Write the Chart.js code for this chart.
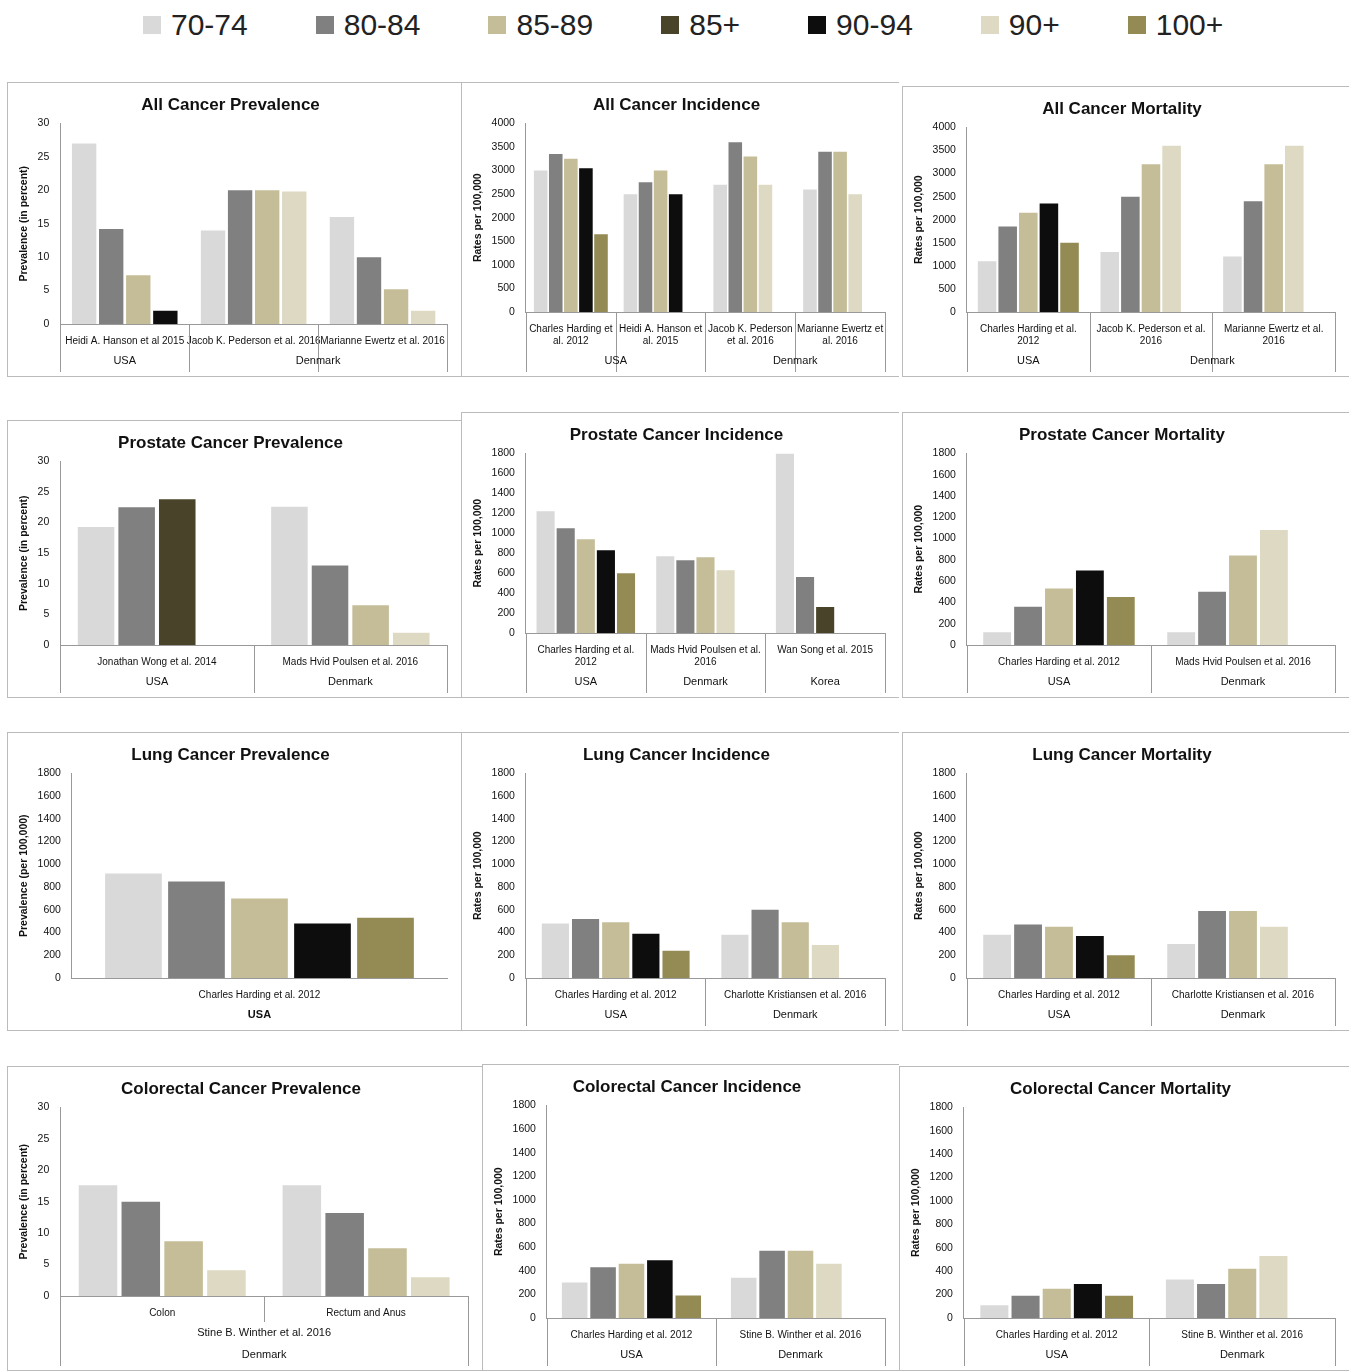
<!DOCTYPE html>
<html>
<head>
<meta charset="utf-8">
<script src="https://cdn.jsdelivr.net/npm/chart.js@4.4.1/dist/chart.umd.min.js"></script>
<style>
  body { margin: 0; background: #fff; font-family: "Liberation Sans", Arial, sans-serif; }
  #wrap { position: relative; width: 1349px; height: 1371px; }
  .legend { position: absolute; top: 8px; left: 143px; display: flex; font-size: 30px; color: #222; }
  .legend span { display: flex; align-items: center; margin-right: 68px; }
  .legend i { display: inline-block; width: 18px; height: 18px; margin-right: 10px; }
  .panel { position: absolute; border-top: 1px solid #bbb; border-left: 1px solid #bbb; border-bottom: 1px solid #bbb; box-sizing: border-box; }
</style>
</head>
<body>
<div id="wrap">
  <div class="legend" id="legend"></div>
</div>
<script>
'use strict';

/* ── SERIES ── */
const seriesNames  = ['70-74', '80-84', '85-89', '85+', '90-94', '90+', '100+'];
const seriesColors = ['#d9d9d9', '#808080', '#c4bd97', '#494429', '#0d0d0d', '#ddd9c3', '#948a54'];

/* ── DATA (one row per series, one column per category; null = no bar) ── */
const prevAllCats = [['Heidi A. Hanson et al 2015'], ['Jacob K. Pederson et al. 2016'], ['Marianne Ewertz et al. 2016']];
const prevAllVals = [[27, 14, 16], [14.2, 20, 10], [7.3, 20, 5.2], [null, null, null], [2, null, null], [null, 19.8, 2], [null, null, null]];

const incAllCats = [['Charles Harding et', 'al. 2012'], ['Heidi A. Hanson et', 'al. 2015'], ['Jacob K. Pederson', 'et al. 2016'], ['Marianne Ewertz et', 'al. 2016']];
const incAllVals = [[3000, 2500, 2700, 2600], [3350, 2750, 3600, 3400], [3250, 3000, 3300, 3400], [null, null, null, null], [3050, 2500, null, null], [null, null, 2700, 2500], [1650, null, null, null]];

const mortAllCats = [['Charles Harding et al.', '2012'], ['Jacob K. Pederson et al.', '2016'], ['Marianne Ewertz et al.', '2016']];
const mortAllVals = [[1100, 1300, 1200], [1850, 2500, 2400], [2150, 3200, 3200], [null, null, null], [2350, null, null], [null, 3600, 3600], [1500, null, null]];

const prevProCats = [['Jonathan Wong et al. 2014'], ['Mads Hvid Poulsen et al. 2016']];
const prevProVals = [[19.3, 22.6], [22.5, 13], [null, 6.5], [23.8, null], [null, null], [null, 2], [null, null]];

const incProCats = [['Charles Harding et al.', '2012'], ['Mads Hvid Poulsen et al.', '2016'], ['Wan Song et al. 2015']];
const incProVals = [[1220, 770, 1800], [1050, 730, 560], [940, 760, null], [null, null, 260], [830, null, null], [null, 630, null], [600, null, null]];

const mortProCats = [['Charles Harding et al. 2012'], ['Mads Hvid Poulsen et al. 2016']];
const mortProVals = [[120, 120], [360, 500], [530, 840], [null, null], [700, null], [null, 1080], [450, null]];

const prevLungCats = [['Charles Harding et al. 2012']];
const prevLungVals = [[920], [850], [700], [null], [480], [null], [530]];

const incLungCats = [['Charles Harding et al. 2012'], ['Charlotte Kristiansen et al. 2016']];
const incLungVals = [[480, 380], [520, 600], [490, 490], [null, null], [390, null], [null, 290], [240, null]];

const mortLungCats = [['Charles Harding et al. 2012'], ['Charlotte Kristiansen et al. 2016']];
const mortLungVals = [[380, 300], [470, 590], [450, 590], [null, null], [370, null], [null, 450], [200, null]];

const prevColCats = [['Colon'], ['Rectum and Anus']];
const prevColVals = [[17.6, 17.6], [15, 13.2], [8.7, 7.6], [null, null], [null, null], [4.1, 3.0], [null, null]];

const incColCats = [['Charles Harding et al. 2012'], ['Stine B. Winther et al. 2016']];
const incColVals = [[300, 340], [430, 570], [460, 570], [null, null], [490, null], [null, 460], [190, null]];

const mortColCats = [['Charles Harding et al. 2012'], ['Stine B. Winther et al. 2016']];
const mortColVals = [[110, 330], [190, 290], [250, 420], [null, null], [290, null], [null, 530], [190, null]];

/* ── PANELS ── */
const PCT = 'Prevalence (in percent)';
const RATE = 'Rates per 100,000';
const panels = [
  { title: 'All Cancer Prevalence', x: 7, y: 82, w: 454, h: 295, cats: prevAllCats, vals: prevAllVals, max: 30, step: 5, yTitle: PCT,
    levels: [[['USA', 1], ['Denmark', 2]]] },
  { title: 'All Cancer Incidence', x: 461, y: 82, w: 438, h: 295, cats: incAllCats, vals: incAllVals, max: 4000, step: 500, yTitle: RATE,
    levels: [[['USA', 2], ['Denmark', 2]]] },
  { title: 'All Cancer Mortality', x: 902, y: 86, w: 447, h: 291, cats: mortAllCats, vals: mortAllVals, max: 4000, step: 500, yTitle: RATE,
    levels: [[['USA', 1], ['Denmark', 2]]] },
  { title: 'Prostate Cancer Prevalence', x: 7, y: 420, w: 454, h: 278, cats: prevProCats, vals: prevProVals, max: 30, step: 5, yTitle: PCT,
    levels: [[['USA', 1], ['Denmark', 1]]] },
  { title: 'Prostate Cancer Incidence', x: 461, y: 412, w: 438, h: 286, cats: incProCats, vals: incProVals, max: 1800, step: 200, yTitle: RATE,
    levels: [[['USA', 1], ['Denmark', 1], ['Korea', 1]]] },
  { title: 'Prostate Cancer Mortality', x: 902, y: 412, w: 447, h: 286, cats: mortProCats, vals: mortProVals, max: 1800, step: 200, yTitle: RATE,
    levels: [[['USA', 1], ['Denmark', 1]]] },
  { title: 'Lung Cancer Prevalence', x: 7, y: 732, w: 454, h: 299, cats: prevLungCats, vals: prevLungVals, max: 1800, step: 200, yTitle: 'Prevalence (per 100,000)',
    levels: [[['USA', 1]]], plain: true },
  { title: 'Lung Cancer Incidence', x: 461, y: 732, w: 438, h: 299, cats: incLungCats, vals: incLungVals, max: 1800, step: 200, yTitle: RATE,
    levels: [[['USA', 1], ['Denmark', 1]]] },
  { title: 'Lung Cancer Mortality', x: 902, y: 732, w: 447, h: 299, cats: mortLungCats, vals: mortLungVals, max: 1800, step: 200, yTitle: RATE,
    levels: [[['USA', 1], ['Denmark', 1]]] },
  { title: 'Colorectal Cancer Prevalence', x: 7, y: 1066, w: 475, h: 305, cats: prevColCats, vals: prevColVals, max: 30, step: 5, yTitle: PCT,
    levels: [[['Stine B. Winther et al. 2016', 2]], [['Denmark', 2]]], innerTop: true },
  { title: 'Colorectal Cancer Incidence', x: 482, y: 1064, w: 417, h: 307, cats: incColCats, vals: incColVals, max: 1800, step: 200, yTitle: RATE,
    levels: [[['USA', 1], ['Denmark', 1]]] },
  { title: 'Colorectal Cancer Mortality', x: 899, y: 1066, w: 450, h: 305, cats: mortColCats, vals: mortColVals, max: 1800, step: 200, yTitle: RATE,
    levels: [[['USA', 1], ['Denmark', 1]]] },
];

/* ── LEGEND ── */
const legend = document.getElementById('legend');
seriesNames.forEach((n, i) => {
  const s = document.createElement('span');
  s.innerHTML = `<i style="background:${seriesColors[i]}"></i>${n}`;
  legend.appendChild(s);
});

/* ── MULTI-LEVEL X AXIS PLUGIN ── */
const ROW = 22;
const FONT = '"Liberation Sans", Arial, sans-serif';
const levelsPlugin = {
  id: 'levels',
  afterDraw(chart, args, opts) {
    const { ctx } = chart;
    const xs = chart.scales.x;
    const n = chart.data.labels.length;
    const top = chart.chartArea.bottom;
    const bottom = xs.bottom + opts.levels.length * ROW;
    const edge = i => i <= 0 ? chart.chartArea.left : i >= n ? chart.chartArea.right
      : (xs.getPixelForValue(i - 1) + xs.getPixelForValue(i)) / 2;
    ctx.save();
    ctx.strokeStyle = '#999';
    ctx.lineWidth = 1;
    ctx.fillStyle = '#111';
    ctx.textAlign = 'center';
    ctx.textBaseline = 'middle';
    if (!opts.plain) {
      ctx.beginPath();
      for (let i = 0; i <= n; i++) {
        const x = Math.round(edge(i)) + 0.5;
        const inner = i > 0 && i < n;
        ctx.moveTo(x, top);
        ctx.lineTo(x, inner && opts.innerTop ? xs.bottom : bottom);
      }
      ctx.stroke();
    }
    opts.levels.forEach((row, r) => {
      let start = 0;
      const y = xs.bottom + r * ROW + ROW / 2;
      ctx.font = (opts.plain ? 'bold 11px ' : '11px ') + FONT;
      row.forEach(([text, span]) => {
        const x0 = edge(start), x1 = edge(start + span);
        ctx.fillText(text, (x0 + x1) / 2, y);
        start += span;
      });
    });
    ctx.restore();
  },
};

/* ── BUILD SLOT DATASETS (bars packed per category) ── */
function buildDatasets(vals, nCats) {
  const lists = [];
  for (let c = 0; c < nCats; c++) {
    const l = [];
    vals.forEach((row, s) => { if (row[c] !== null) l.push({ v: row[c], s }); });
    lists.push(l);
  }
  const slots = Math.max(...lists.map(l => l.length));
  const ds = [];
  for (let k = 0; k < slots; k++) {
    ds.push({
      data: lists.map(l => l[k] ? l[k].v : null),
      backgroundColor: lists.map(l => l[k] ? seriesColors[l[k].s] : 'transparent'),
      barPercentage: 0.9,
      categoryPercentage: 0.84,
    });
  }
  return ds;
}

/* ── RENDER ── */
const wrap = document.getElementById('wrap');
panels.forEach(p => {
  const div = document.createElement('div');
  div.className = 'panel';
  Object.assign(div.style, { left: p.x + 'px', top: p.y + 'px', width: p.w + 'px', height: p.h + 'px' });
  const cv = document.createElement('canvas');
  div.appendChild(cv);
  wrap.appendChild(div);
  cv.width = p.w - 1; cv.height = p.h - 2;
  Object.assign(cv.style, { width: (p.w - 1) + 'px', height: (p.h - 2) + 'px' });

  new Chart(cv, {
    type: 'bar',
    data: { labels: p.cats, datasets: buildDatasets(p.vals, p.cats.length) },
    plugins: [levelsPlugin],
    options: {
      responsive: false,
      animation: false,
      layout: { padding: { left: 6, right: 14, top: 6, bottom: p.levels.length * ROW + 4 } },
      plugins: {
        legend: { display: false },
        tooltip: { enabled: false },
        title: { display: true, text: p.title, color: '#111', padding: { top: 6, bottom: 8 },
          font: { size: 17, weight: 'bold', family: FONT } },
        levels: { levels: p.levels, plain: !!p.plain, innerTop: !!p.innerTop },
      },
      scales: {
        x: {
          grid: { display: false },
          border: { color: '#999' },
          ticks: { color: '#111', maxRotation: 0, autoSkip: false, font: { size: 10, family: FONT } },
        },
        y: {
          min: 0, max: p.max,
          grid: { display: false },
          border: { color: '#999' },
          ticks: { stepSize: p.step, color: '#111', font: { size: 10.5, family: FONT }, callback: v => String(v) },
          title: { display: true, text: p.yTitle, color: '#111', font: { size: 10.5, weight: 'bold', family: FONT } },
        },
      },
    },
  });
});
</script>
</body>
</html>
